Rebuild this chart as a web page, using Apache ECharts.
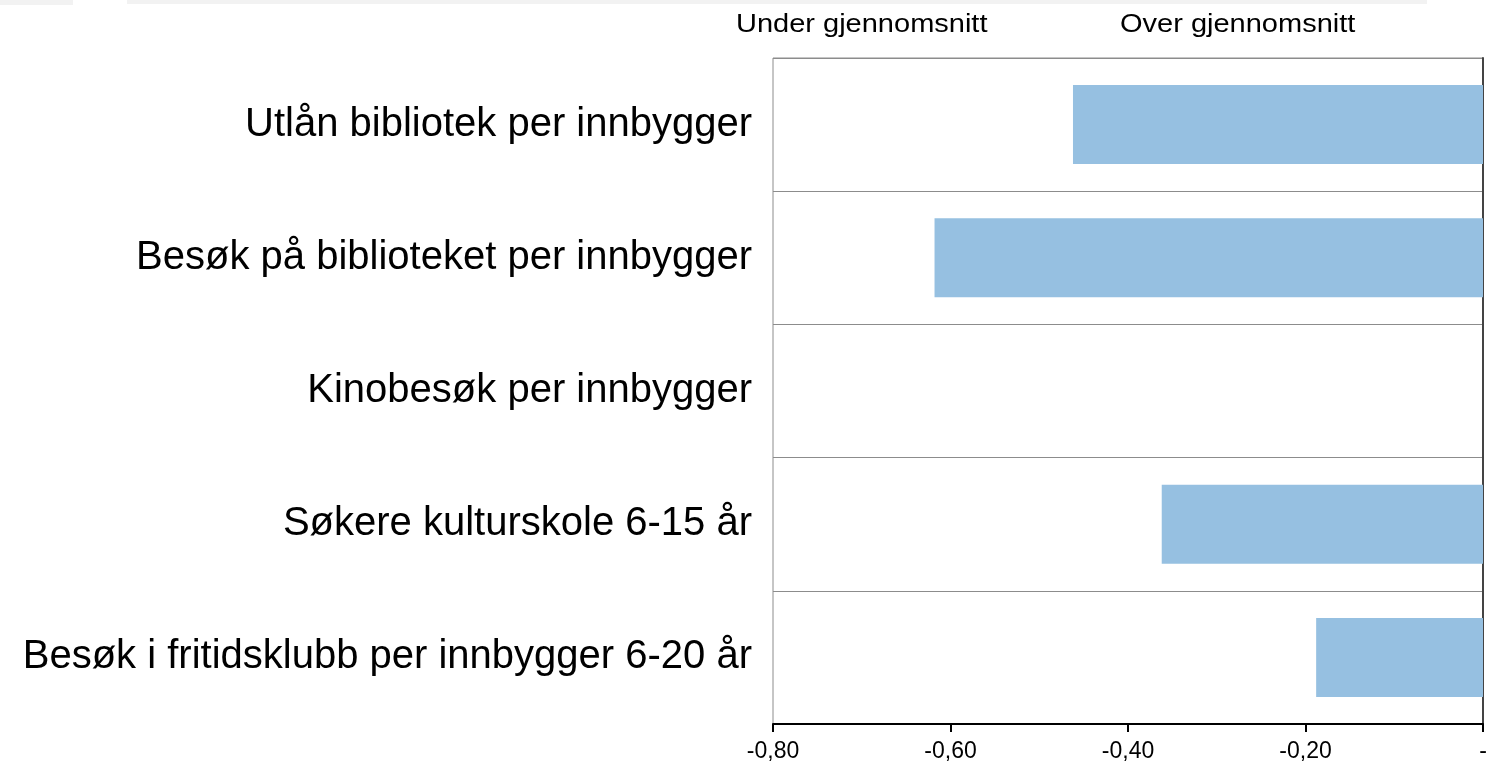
<!DOCTYPE html>
<html>
<head>
<meta charset="utf-8">
<script src="https://cdn.jsdelivr.net/npm/echarts@6/dist/echarts.min.js"></script>
<style>
  html, body { margin: 0; padding: 0; background: #fff; }
  #chart { width: 1501px; height: 766px; }
</style>
</head>
<body>
<div id="chart"></div>
<script>
const categories = [
  'Utlån bibliotek per innbygger',
  'Besøk på biblioteket per innbygger',
  'Kinobesøk per innbygger',
  'Søkere kulturskole 6-15 år',
  'Besøk i fritidsklubb per innbygger 6-20 år'
]
const values = [-0.462, -0.618, 0, -0.362, -0.188]
const sideLabels = ['Under gjennomsnitt', 'Over gjennomsnitt']

const chart = echarts.init(document.getElementById('chart'))

chart.setOption({
  animation: false,
  textStyle: { fontFamily: "'Liberation Sans', Arial, sans-serif" },
  grid: {
    left: 773,
    right: 18,
    top: 58,
    bottom: 42,
    show: true,
    backgroundColor: '#fff',
    borderColor: '#8c8c8c',
    borderWidth: 1
  },
  graphic: [
    // grey strips along the top edge
    { type: 'rect', shape: { x: 0, y: 0, width: 73, height: 5 }, style: { fill: '#f2f2f2' } },
    { type: 'rect', shape: { x: 127, y: 0, width: 1300, height: 4 }, style: { fill: '#f2f2f2' } },
    {
      type: 'text', x: 736, y: 25, scaleX: 1.16,
      style: { text: sideLabels[0], fontSize: 25, fill: '#000', textAlign: 'left', textVerticalAlign: 'middle',
        fontFamily: "'Liberation Sans', Arial, sans-serif" }
    },
    {
      type: 'text', x: 1120, y: 25, scaleX: 1.16,
      style: { text: sideLabels[1], fontSize: 25, fill: '#000', textAlign: 'left', textVerticalAlign: 'middle',
        fontFamily: "'Liberation Sans', Arial, sans-serif" }
    }
  ],
  xAxis: {
    type: 'value',
    min: -0.8,
    max: 0,
    interval: 0.2,
    axisLine: { show: true, onZero: false, lineStyle: { color: '#000', width: 2 } },
    axisTick: { show: true, length: 8, lineStyle: { color: '#000', width: 2 } },
    splitLine: { show: false },
    axisLabel: {
      fontSize: 23,
      color: '#000',
      margin: 16,
      showMinLabel: true,
      showMaxLabel: true,
      formatter: function (v) {
        return v === 0 ? '-' : v.toFixed(2).replace('.', ',')
      }
    }
  },
  yAxis: [{
    type: 'category',
    inverse: true,
    data: categories,
    axisLine: { show: false },
    axisTick: { show: false },
    axisLabel: { fontSize: 40, color: '#000', margin: 21 },
    splitLine: { show: true, lineStyle: { color: '#8c8c8c', width: 1 } }
  }, {
    type: 'category',
    position: 'right',
    inverse: true,
    data: categories,
    axisLine: { show: true, lineStyle: { color: '#444', width: 2 } },
    axisTick: { show: false },
    axisLabel: { show: false },
    splitLine: { show: false }
  }],
  series: [{
    type: 'bar',
    yAxisIndex: 0,
    data: values,
    barWidth: 79,
    itemStyle: { color: '#96c0e1' }
  }]
})
</script>
</body>
</html>
